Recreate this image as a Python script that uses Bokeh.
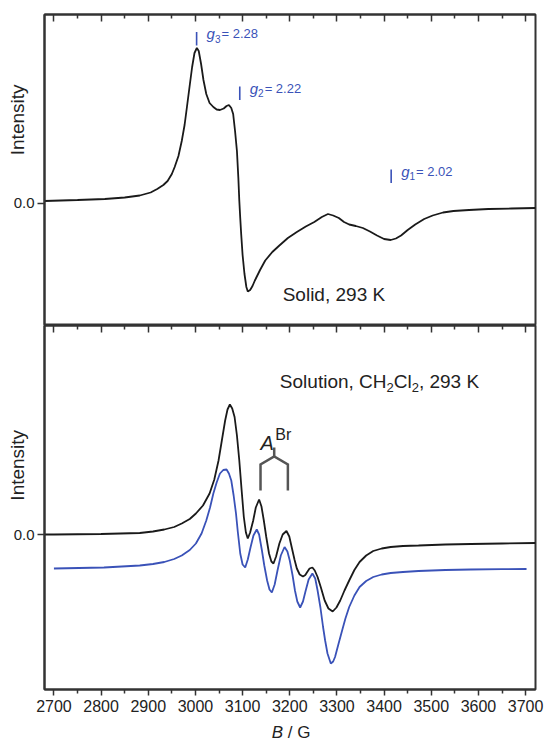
import math
from bokeh.plotting import figure
from bokeh.layouts import column
from bokeh.models import Range1d, LinearAxis, FixedTicker, Label, PrintfTickFormatter
from bokeh.embed import file_html
from bokeh.resources import INLINE

# ---------------- data ----------------
# Solid-state spectrum (top panel): magnetic field B / G and intensity (arb. units)
solid_B = [2680, 2750, 2808, 2850, 2882, 2905, 2919, 2932, 2941, 2950, 2956, 2964, 2971, 2977,
           2982, 2988, 2993, 2998, 3003, 3007, 3012, 3017, 3023, 3030, 3038, 3045, 3052, 3060,
           3066, 3071, 3076, 3080, 3084, 3088, 3091, 3093, 3095, 3097, 3100, 3104, 3108, 3111,
           3116, 3121, 3126, 3137, 3148, 3163, 3178, 3196, 3215, 3234, 3252, 3268, 3281, 3292,
           3304, 3315, 3326, 3340, 3355, 3370, 3385, 3400, 3414, 3425, 3436, 3450, 3466, 3485,
           3503, 3525, 3547, 3580, 3621, 3670, 3721]
solid_I = [2, 3, 4, 5.5, 7.5, 10.5, 14, 18, 22, 29, 36, 47, 62, 78,
           96, 118, 136, 150, 155, 152, 139, 123, 109, 100, 96, 93.5, 93, 94.5,
           97, 98, 95, 89, 72, 52, 25, 2.5, -15, -31, -52, -71, -84, -88.5,
           -87, -83, -77.5, -67, -57.5, -49, -42.5, -35, -29, -23.5, -19, -14, -11, -12.5,
           -15, -19, -21.5, -23, -25, -28.5, -32.5, -36, -37, -35.5, -32.5, -27, -21.5, -16,
           -12.5, -9.5, -8, -7, -6, -5.5, -5]

# Solution spectrum, experimental (black)
sol_B = [2680, 2700, 2800, 2882, 2910, 2934, 2955, 2971, 2988, 3001, 3016, 3030, 3040, 3049,
         3056, 3063, 3068, 3073, 3078, 3083, 3088, 3093, 3098, 3102.6, 3107, 3111, 3116, 3122.5,
         3128, 3135, 3140, 3145, 3150, 3156, 3161, 3165.5, 3171, 3178, 3185, 3193, 3199, 3204,
         3210, 3215, 3221, 3228, 3233, 3237, 3242, 3248, 3253, 3259, 3266, 3274, 3282, 3291,
         3299, 3307, 3316, 3326, 3337, 3348, 3362, 3377, 3395, 3414, 3440, 3473, 3530, 3584,
         3650, 3721]
sol_I = [0, 0, 0.5, 1.5, 3, 5, 7.5, 11, 15.5, 21, 29, 41, 55, 74,
         94, 114, 125, 130, 126, 117.5, 99, 74, 44, 17.5, 2, -4, 2, 14,
         27, 35, 28, 14, -2, -19, -27, -29, -22, -9, 0, 3.5, -2, -12.5,
         -25, -34, -40, -42, -40.5, -37.5, -34, -33, -36, -42.5, -53, -66, -74, -77,
         -73, -66, -56, -46, -35.5, -27.5, -21, -16.5, -14, -12.5, -11.5, -11, -10, -9.5,
         -9, -8.5]

# Solution spectrum, simulation (blue)
sim_B = [2700, 2806, 2882, 2910, 2934, 2955, 2971, 2988, 3001, 3013, 3023, 3031, 3038, 3045,
         3052, 3059, 3066, 3071, 3076, 3081, 3086, 3090, 3095, 3100, 3105.5, 3111, 3117, 3123,
         3130, 3135, 3141, 3146, 3152, 3157, 3162, 3168, 3174, 3181, 3189, 3195, 3200, 3206,
         3211, 3216, 3222, 3228, 3233, 3240, 3248, 3254, 3259, 3265, 3270.6, 3275, 3280, 3287,
         3292, 3296, 3303, 3311, 3318, 3326, 3337, 3348, 3362, 3377, 3395, 3414, 3440, 3473,
         3530, 3584, 3650, 3702]
sim_I = [-34, -33, -31, -29.5, -27.5, -24.5, -21, -15.5, -9, 1, 14, 27, 41, 52,
         61, 64.5, 65, 61, 54, 39, 21, 2, -19, -30, -33, -25, -12.5, -1,
         5, 0, -16, -31, -46, -55, -58, -50, -36, -21, -12.5, -17, -26, -41,
         -56, -67, -73, -67, -57.5, -45, -39, -44, -56, -73, -92.5, -106, -119, -129,
         -127, -122.5, -110, -96, -84, -72.5, -61, -52.5, -46.5, -42.5, -40, -38.5, -37.5, -36.5,
         -35.5, -35, -34.7, -34.5]

# g-value markers (top panel)
g_B = [3002.5, 3094, 3415]
g_I = [157.5, 103, 20]
g_sub = ["3", "2", "1"]
g_val = ["2.28", "2.22", "2.02"]

# Br hyperfine bracket (bottom panel)
A_center = 3167
A_split = 58
A_I = [87, 78, 70, 44]

x_ticks = [2700, 2800, 2900, 3000, 3100, 3200, 3300, 3400, 3500, 3600, 3700]
x_minor = [2750, 2850, 2950, 3050, 3150, 3250, 3350, 3450, 3550, 3650]

# ---------------- styling ----------------
FONT = "Liberation Sans"
FRAME = "#333333"
TXT = "#222222"
BLUE = "#3a52b8"
NB = "\u00a0"
W_ = {'S': 667, 'o': 556, 'l': 222, 'u': 556, 't': 278, 'i': 222, 'n': 556, ',': 278, ' ': 278,
      NB: 278, 'C': 722, 'H': 722, '2': 556, '9': 556, '3': 556, 'K': 667, '=': 584, '.': 278,
      '8': 556, '0': 556, '1': 556, 'g': 556, 'A': 667, 'B': 667, 'r': 333, '/': 278,
      'G': 778, 'd': 556}
XR = Range1d(2680, 3721)


def tw(s, size):
    return sum(W_.get(c, 556) for c in s) * size / 1000.0


def rich(p, x, y, pieces, color, x0=0, y0=0, **units):
    """pieces: (text, size, style, dy)"""
    off = x0
    for text, size, style, dy in pieces:
        p.add_layout(Label(x=x, y=y, x_offset=off, y_offset=y0 + dy, text=text,
                           text_font=FONT, text_font_size=f"{size}px", text_font_style=style,
                           text_color=color, text_align="left", text_baseline="alphabetic",
                           **units))
        off += tw(text, size)


def base_fig(height, yr, top, bottom, ylabel_pad):
    p = figure(width=545, height=height, x_range=XR, y_range=yr,
               output_backend="svg", toolbar_location=None, x_axis_location=None,
               min_border_left=44, min_border_right=10, min_border_top=top,
               min_border_bottom=bottom)
    p.grid.visible = False
    p.outline_line_color = FRAME
    p.outline_line_width = 2
    y = p.yaxis[0]
    y.ticker = FixedTicker(ticks=[0], minor_ticks=[])
    y.formatter = PrintfTickFormatter(format="%.1f")
    y.major_tick_out = 7
    y.major_tick_in = 0
    y.minor_tick_out = 0
    y.minor_tick_in = 0
    y.major_label_standoff = 3
    y.major_label_text_font = FONT
    y.major_label_text_font_size = "15px"
    y.major_label_text_color = TXT
    y.axis_line_color = FRAME
    y.axis_line_width = 2
    y.major_tick_line_color = FRAME
    y.major_tick_line_width = 1.5
    y.axis_label = NB * ylabel_pad + "Intensity"
    y.axis_label_text_font = FONT
    y.axis_label_text_font_size = "19px"
    y.axis_label_text_font_style = "normal"
    y.axis_label_text_color = TXT
    y.axis_label_standoff = -17
    top_ax = LinearAxis()
    p.add_layout(top_ax, "above")
    top_ax.ticker = FixedTicker(ticks=x_ticks, minor_ticks=x_minor)
    top_ax.major_tick_in = 7
    top_ax.major_tick_out = 0
    top_ax.minor_tick_in = 4
    top_ax.minor_tick_out = 0
    top_ax.major_label_text_font_size = "1px"
    top_ax.major_label_text_color = None
    top_ax.major_label_standoff = 0
    top_ax.axis_line_color = FRAME
    top_ax.axis_line_width = 2
    top_ax.major_tick_line_color = FRAME
    top_ax.minor_tick_line_color = FRAME
    top_ax.major_tick_line_width = 1.5
    top_ax.minor_tick_line_width = 1.5
    return p


# ---------------- top panel ----------------
p1 = base_fig(325, Range1d(-122.5, 188.5), 14, 0, 19)
p1.line(solid_B, solid_I, line_color="#1a1a1a", line_width=1.8)
p1.segment(x0=g_B, y0=g_I, x1=g_B, y1=[v + 13.5 for v in g_I], line_color=BLUE, line_width=1.6)
for b, i, s, v in zip(g_B, g_I, g_sub, g_val):
    rich(p1, b, i + 12, [("g", 15, "italic", 0)], BLUE, x0=10)
    rich(p1, b, i + 12, [(s, 10, "normal", -5)], BLUE, x0=10 + tw("g", 15))
    rich(p1, b, i + 12, [("=" + NB + v, 13, "normal", 0)], BLUE,
         x0=10 + tw("g", 15) + tw(s, 10) + 1)
rich(p1, 3185, -91, [("Solid, 293 K", 19, "normal", 0)], TXT)

# ---------------- bottom panel ----------------
p2 = base_fig(392, Range1d(-155, 209), 0, 28, 16)
bx = LinearAxis()
p2.add_layout(bx, "below")
bx.ticker = FixedTicker(ticks=x_ticks, minor_ticks=x_minor)
bx.major_tick_out = 6
bx.major_tick_in = 0
bx.minor_tick_out = 4
bx.minor_tick_in = 0
bx.major_label_standoff = 4
bx.major_label_text_font = FONT
bx.major_label_text_font_size = "16px"
bx.major_label_text_color = TXT
bx.axis_line_color = FRAME
bx.axis_line_width = 2
bx.major_tick_line_color = FRAME
bx.minor_tick_line_color = FRAME
bx.major_tick_line_width = 1.5
bx.minor_tick_line_width = 1.5

p2.line(sol_B, sol_I, line_color="#1a1a1a", line_width=1.8)
p2.line(sim_B, sim_I, line_color=BLUE, line_width=1.8)

# bracket for A(Br)
bl, br = A_center - A_split / 2, A_center + A_split / 2
p2.line([A_center, A_center], [A_I[0], A_I[1]], line_color="#555555", line_width=2.5)
p2.line([bl, bl, A_center, br, br], [A_I[3], A_I[2], A_I[1], A_I[2], A_I[3]],
        line_color="#555555", line_width=2.5, line_join="miter")
rich(p2, bl, A_I[0] + 5, [("A", 20, "italic", 0)], TXT, x0=0)
rich(p2, bl, A_I[0] + 5, [("Br", 16, "normal", 8)], TXT, x0=tw("A", 20) + 1.5)

rich(p2, 3179, 153, [("Solution, CH", 19, "normal", 0), ("2", 13, "normal", -6),
                     ("Cl", 19, "normal", 0), ("2", 13, "normal", -6),
                     ("," + NB + "293 K", 19, "normal", 0)], TXT)

# ---------------- x-axis title strip ----------------
p3 = figure(width=545, height=24, x_range=XR, y_range=Range1d(0, 24), output_backend="svg",
            toolbar_location=None, x_axis_location=None, y_axis_location=None,
            min_border_left=44, min_border_right=10, min_border_top=0, min_border_bottom=0)
p3.grid.visible = False
p3.outline_line_color = None
t_B = "B"
t_rest = NB + "/" + NB + "G"
wB = tw(t_B, 17)
wR = tw(t_rest, 17)
p3.add_layout(Label(x=3203, y=9, x_offset=-(wB + wR) / 2, text=t_B,
                    text_font=FONT, text_font_size="17px", text_font_style="italic",
                    text_color=TXT, text_baseline="middle"))
p3.add_layout(Label(x=3203, y=9, x_offset=-(wB + wR) / 2 + wB, text=t_rest,
                    text_font=FONT, text_font_size="17px", text_color=TXT,
                    text_baseline="middle"))

layout = column(p1, p2, p3, spacing=0)
open("out.html", "w").write(file_html(layout, INLINE))
